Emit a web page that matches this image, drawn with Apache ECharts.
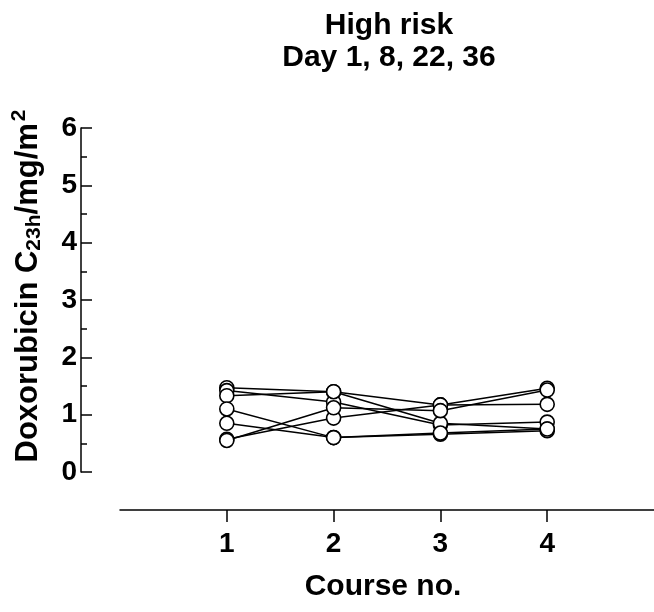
<!DOCTYPE html>
<html>
<head>
<meta charset="utf-8">
<script src="https://cdn.jsdelivr.net/npm/echarts@6/dist/echarts.min.js"></script>
<style>html,body{margin:0;padding:0;background:#fff}#c{width:654px;height:612px}</style>
</head>
<body>
<div id="c"></div>
<script>
const courses = [1, 2, 3, 4];
const patient1 = [1.47, 1.40, 1.17, 1.18];
const patient2 = [1.42, 1.22, 0.82, 0.87];
const patient3 = [1.33, 1.40, 0.85, 0.75];
const patient4 = [1.10, 0.60, 0.66, 0.72];
const patient5 = [0.85, 0.60, 0.68, 0.75];
const patient6 = [0.57, 0.94, 1.17, 1.46];
const patient7 = [0.55, 1.12, 1.07, 1.43];
const patients = [patient1, patient2, patient3, patient4, patient5, patient6, patient7];

const FONT = '"Liberation Sans", Arial, sans-serif';
const chart = echarts.init(document.getElementById('c'), null, {renderer: 'canvas'});
chart.setOption({
  animation: false,
  backgroundColor: '#fff',
  title: {
    text: 'High risk\nDay 1, 8, 22, 36',
    left: 384, top: 5, textAlign: 'center',
    textStyle: {fontFamily: FONT, fontWeight: 'bold', fontSize: 30, lineHeight: 32, color: '#000'}
  },
  grid: {left: 120, right: 0, top: 128, bottom: 140},
  xAxis: {
    type: 'value', min: 0, max: 5, offset: 38,
    name: 'Course no.', nameLocation: 'middle', nameGap: 62,
    nameTextStyle: {fontFamily: FONT, fontWeight: 'bold', fontSize: 30, color: '#000', padding: [0, 8, 0, 0]},
    axisLine: {show: true, onZero: false, lineStyle: {color: '#000', width: 1.5}},
    axisTick: {show: true, customValues: courses, length: 12, inside: false, lineStyle: {color: '#000', width: 1.5}},
    axisLabel: {customValues: courses, margin: 20, fontFamily: FONT, fontWeight: 'bold', fontSize: 28, color: '#000'},
    splitLine: {show: false}
  },
  yAxis: {
    type: 'value', min: 0, max: 6, interval: 1, offset: 39,
    name: '{m|Doxorubicin C}{sub|23h}{m|/mg/m}{sup|2}',
    nameLocation: 'middle', nameGap: 36, nameRotate: 90,
    nameTextStyle: {
      padding: [0, 0, 0, 28],
      rich: {
        m: {fontFamily: FONT, fontWeight: 'bold', fontSize: 31, color: '#000', lineHeight: 34},
        sub: {fontFamily: FONT, fontWeight: 'bold', fontSize: 21, color: '#000', lineHeight: 34, padding: [13, 0, 0, 0]},
        sup: {fontFamily: FONT, fontWeight: 'bold', fontSize: 21, color: '#000', lineHeight: 34, padding: [0, 0, 18, 2]}
      }
    },
    axisLine: {show: true, onZero: false, lineStyle: {color: '#000', width: 1.5}},
    axisTick: {show: true, inside: true, length: 11, lineStyle: {color: '#000', width: 1.5}},
    minorTick: {show: true, splitNumber: 2, length: 6, lineStyle: {color: '#000', width: 1.5}},
    axisLabel: {margin: 4, fontFamily: FONT, fontWeight: 'bold', fontSize: 28, color: '#000'},
    splitLine: {show: false}
  },
  series: patients.map((p, i) => ({
    type: 'line',
    name: 'P' + (i + 1),
    data: courses.map((c, j) => [c, p[j]]),
    symbol: 'circle', symbolSize: 14,
    lineStyle: {color: '#000', width: 1.5},
    itemStyle: {color: '#fff', borderColor: '#000', borderWidth: 1.6},
    z: 2
  }))
});
</script>
</body>
</html>
